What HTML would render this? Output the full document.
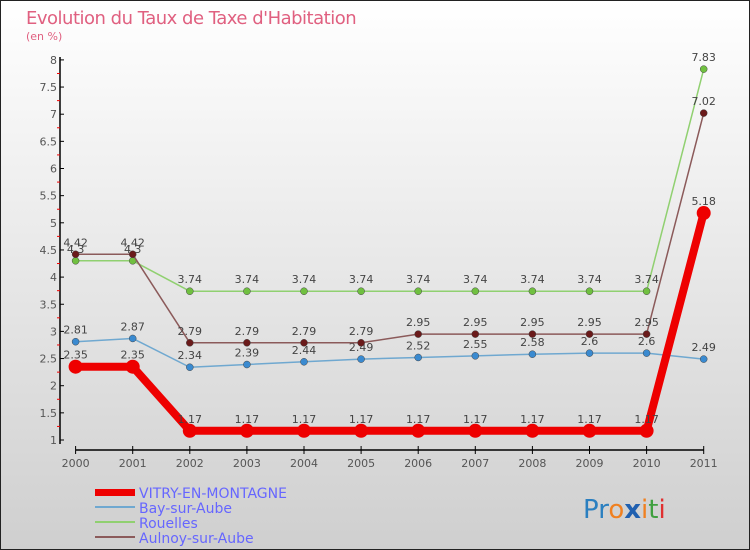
<!DOCTYPE html>
<html><head><meta charset="utf-8"><style>
body{margin:0}
#c{width:750px;height:550px;position:relative;background:linear-gradient(#ffffff,#cfcfcf);box-sizing:border-box;border:1px solid #222;font-family:"DejaVu Sans","Liberation Sans",sans-serif;overflow:hidden}
</style></head><body>
<div id="c">
<svg id="s" width="750" height="550" style="position:absolute;left:-1px;top:-1px">
<text x="26" y="24" font-size="18" fill="#e06080" style="font-family:'DejaVu Sans',sans-serif;letter-spacing:-0.5px">Evolution du Taux de Taxe d'Habitation</text>
<text x="26" y="40" font-size="11" fill="#e06080">(en %)</text>
<g id="g"></g>
<g>
<rect x="95" y="489" width="40" height="7" fill="#e00"/>
<line x1="95" y1="507" x2="135" y2="507" stroke="#6fa8d0" stroke-width="2"/>
<line x1="95" y1="522" x2="135" y2="522" stroke="#90d070" stroke-width="2"/>
<line x1="95" y1="537" x2="135" y2="537" stroke="#8b5a5a" stroke-width="2"/>
<text x="139" y="498" font-size="14" fill="#6666ff">VITRY-EN-MONTAGNE</text>
<text x="139" y="513" font-size="14" fill="#6666ff">Bay-sur-Aube</text>
<text x="139" y="528" font-size="14" fill="#6666ff">Rouelles</text>
<text x="139" y="543" font-size="14" fill="#6666ff">Aulnoy-sur-Aube</text>
</g>
<text x="583" y="518" font-size="26" style="font-family:'DejaVu Sans',sans-serif"><tspan fill="#2a7fc0">Pr</tspan><tspan fill="#f08020">o</tspan><tspan fill="#2060b0" font-weight="bold">x</tspan><tspan fill="#f08020">i</tspan><tspan fill="#40a040">t</tspan><tspan fill="#e03030">i</tspan></text>
</svg>
</div>
<script>
const years=["2000","2001","2002","2003","2004","2005","2006","2007","2008","2009","2010","2011"];
const yTicks=[1,1.5,2,2.5,3,3.5,4,4.5,5,5.5,6,6.5,7,7.5,8];
const vitry=[2.35,2.35,1.17,1.17,1.17,1.17,1.17,1.17,1.17,1.17,1.17,5.18];
const bay=[2.81,2.87,2.34,2.39,2.44,2.49,2.52,2.55,2.58,2.6,2.6,2.49];
const rouelles=[4.3,4.3,3.74,3.74,3.74,3.74,3.74,3.74,3.74,3.74,3.74,7.83];
const aulnoy=[4.42,4.42,2.79,2.79,2.79,2.79,2.95,2.95,2.95,2.95,2.95,7.02];
const NS="http://www.w3.org/2000/svg";
const g=document.getElementById('g');
const X=i=>75.6+i*57.1;
const Y=v=>440-(v-1)*54.3;
function mk(t,a,p){const e=document.createElementNS(NS,t);for(const k in a)e.setAttribute(k,a[k]);(p||g).appendChild(e);return e;}
const ax=mk('line',{x1:60,y1:57,x2:60,y2:444,stroke:'#000','stroke-width':1.5});


const xa=mk('line',{x1:X(0),y1:450,x2:X(11),y2:450,stroke:'#000','stroke-width':1.5});


yTicks.forEach((v,i)=>{
 mk('line',{x1:60,y1:Y(v),x2:64,y2:Y(v),stroke:'#000'});
 if(i<yTicks.length-1)mk('line',{x1:57,y1:Y(v+0.25),x2:60,y2:Y(v+0.25),stroke:'#e00'});
 const t=mk('text',{x:57,y:Y(v)+4,'text-anchor':'end','font-size':11,fill:'#555'});t.textContent=String(v);
 
 
});
years.forEach((y,i)=>{
 mk('line',{x1:X(i),y1:446,x2:X(i),y2:454,stroke:'#000'});
 const t=mk('text',{x:X(i),y:467,'text-anchor':'middle','font-size':11,fill:'#555'});t.textContent=y;
 
 
});
function series(d,color,w,r,name,dotColor){
 const p=mk('polyline',{points:d.map((v,i)=>X(i)+','+Y(v)).join(' '),fill:'none',stroke:color,'stroke-width':w,'stroke-linejoin':'round'});
 
 
 d.forEach((v,i)=>{
  const c=mk('circle',{cx:X(i),cy:Y(v),r:r,fill:dotColor,stroke:'#444','stroke-width':r>5?0:0.5});
  
  
  const t=mk('text',{x:X(i),y:Y(v)-8,'text-anchor':'middle','font-size':11,fill:'#444'});t.textContent=String(v);
  
  
 });
}
series(bay,'#6fa8d0',1.5,3.5,'bay','#3a8ad0');
series(rouelles,'#90d070',1.5,3.5,'rouelles','#70c040');
series(aulnoy,'#8b5a5a',1.5,3.5,'aulnoy','#6a1a1a');
series(vitry,'#e00',8,7,'vitry','#e00');
</script>
</body></html>
